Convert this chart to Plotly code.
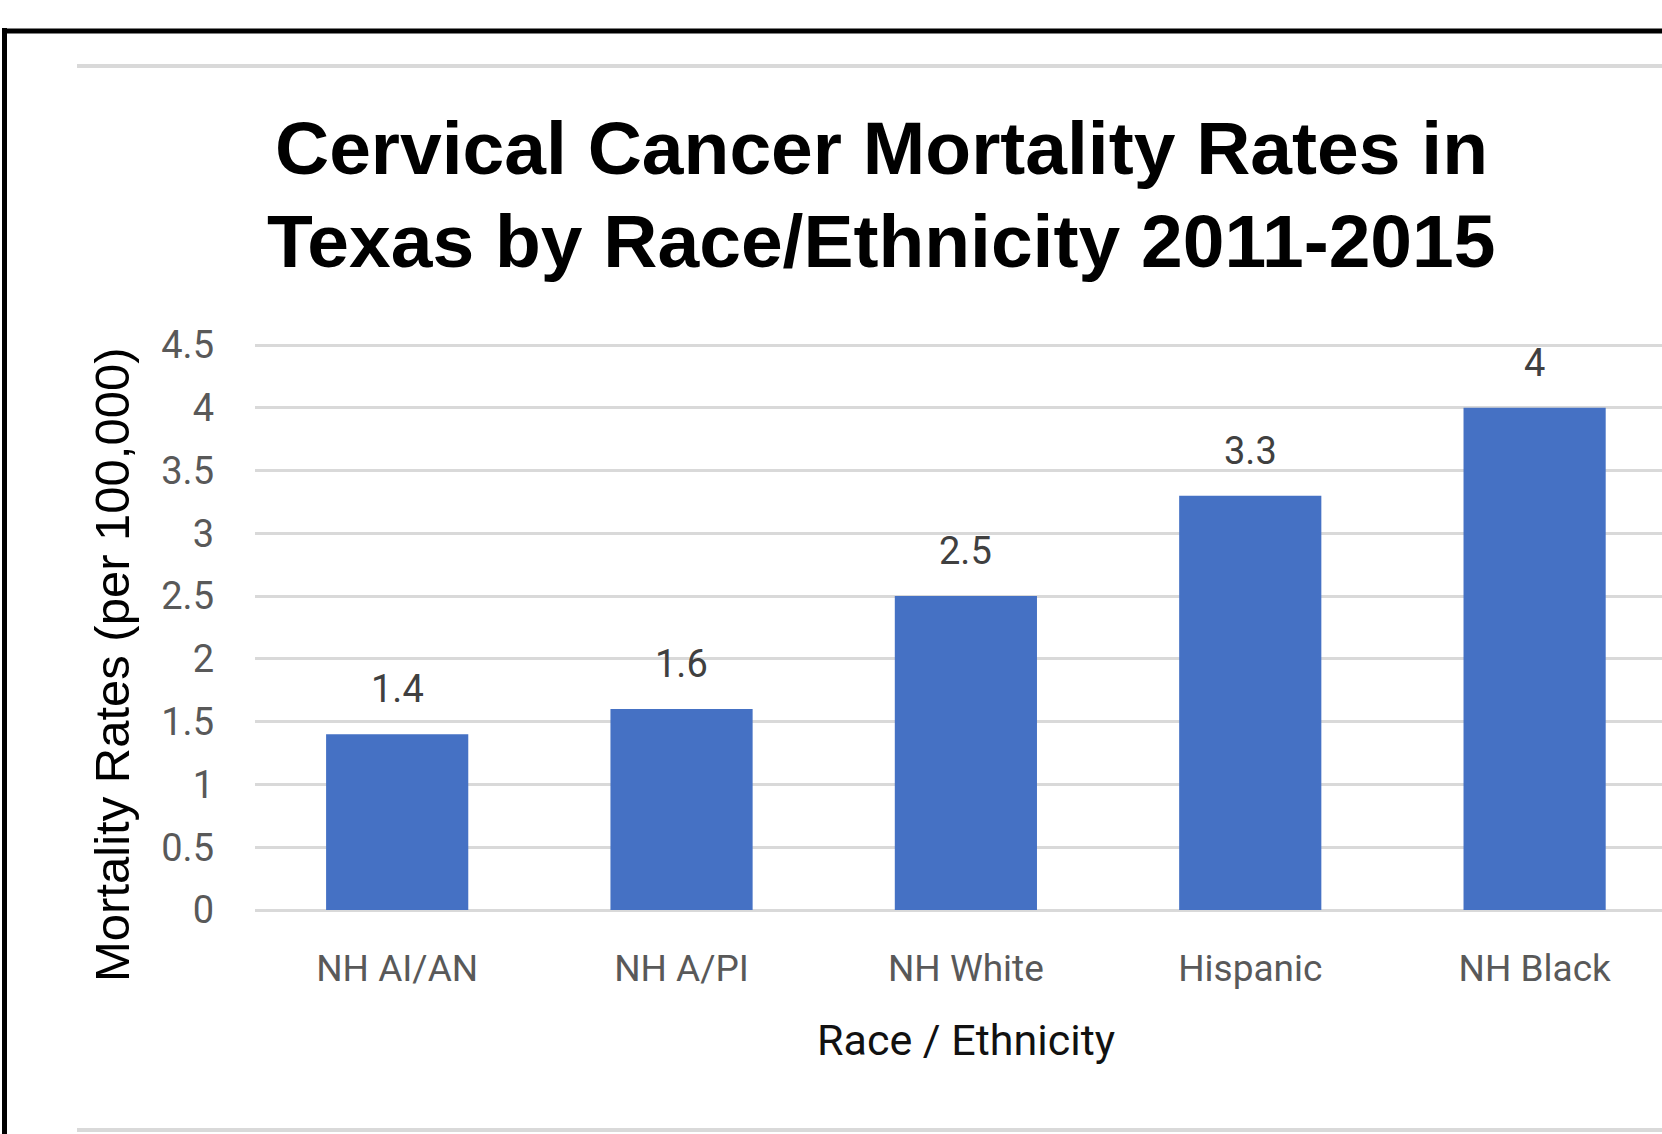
import plotly.graph_objects as go

# ---- data ----
categories = ["NH AI/AN", "NH A/PI", "NH White", "Hispanic", "NH Black"]
rates = [1.4, 1.6, 2.5, 3.3, 4.0]
rate_labels = ["1.4", "1.6", "2.5", "3.3", "4"]
y_ticks = [0, 0.5, 1, 1.5, 2, 2.5, 3, 3.5, 4, 4.5]
title_lines = ["Cervical Cancer Mortality Rates in", "Texas by Race/Ethnicity 2011-2015"]
x_title = "Race / Ethnicity"
y_title = "Mortality Rates (per 100,000)"

# ---- layout geometry (pixels) ----
W, H = 1662, 1134
Y0_PX, Y45_PX = 910, 345          # pixel rows of 0 and 4.5
PX_PER_UNIT = (Y0_PX - Y45_PX) / 4.5
TOP_EXTRA = 3                      # small headroom so the 4.5 gridline is drawn
ML, MR, MT, MB = 255, 0, Y45_PX - TOP_EXTRA, H - Y0_PX
Y_MAX = 4.5 + TOP_EXTRA / PX_PER_UNIT
PW = W - ML - MR
PH = H - MT - MB


def px_x(px):
    return (px - ML) / PW


def px_y(py):
    return (H - MB - py) / PH


fig = go.Figure()
fig.add_trace(go.Bar(
    x=list(range(len(categories))),
    y=rates,
    marker=dict(color="#4571C4", line=dict(width=0)),
    width=0.5,
    hoverinfo="skip",
))

annotations = []
for i, (v, lab) in enumerate(zip(rates, rate_labels)):
    annotations.append(dict(
        x=i, y=v, xref="x", yref="y", text=lab, showarrow=False,
        yanchor="middle", xanchor="center", yshift=45,
        font=dict(family="Roboto", size=38, color="#404040"),
    ))

# title lines
title_centers = [148, 241]
for line, cy in zip(title_lines, title_centers):
    annotations.append(dict(
        x=px_x(881), y=px_y(cy), xref="paper", yref="paper", text=f"<b>{line}</b>",
        showarrow=False, xanchor="center", yanchor="middle",
        font=dict(family="Liberation Sans", size=75, color="#000000"),
    ))

# axis titles
annotations.append(dict(
    x=2, y=px_y(1040), xref="x", yref="paper", text=x_title, showarrow=False,
    xanchor="center", yanchor="middle",
    font=dict(family="Roboto", size=43, color="#111111"),
))
annotations.append(dict(
    x=px_x(112), y=px_y(665), xref="paper", yref="paper", text=y_title,
    showarrow=False, xanchor="center", yanchor="middle", textangle=-90,
    font=dict(family="Liberation Sans", size=49, color="#000000"),
))

shapes = [
    # black frame (left + top)
    dict(type="line", xref="paper", yref="paper", x0=px_x(4.5), x1=px_x(4.5),
         y0=px_y(28), y1=px_y(H + 20), line=dict(color="#000000", width=5)),
    dict(type="line", xref="paper", yref="paper", x0=px_x(2), x1=px_x(W + 20),
         y0=px_y(31), y1=px_y(31), line=dict(color="#000000", width=5)),
    # light separator lines
    dict(type="line", xref="paper", yref="paper", x0=px_x(77), x1=px_x(W + 20),
         y0=px_y(66), y1=px_y(66), line=dict(color="#D9D9D9", width=4)),
    dict(type="line", xref="paper", yref="paper", x0=px_x(77), x1=px_x(W + 20),
         y0=px_y(1130), y1=px_y(1130), line=dict(color="#D9D9D9", width=4)),
]

fig.update_layout(
    width=W, height=H,
    margin=dict(l=ML, r=MR, t=MT, b=MB, pad=0),
    paper_bgcolor="white", plot_bgcolor="white",
    showlegend=False,
    annotations=annotations,
    shapes=shapes,
    xaxis=dict(
        tickmode="array", tickvals=list(range(len(categories))), ticktext=categories,
        range=[-0.5, 4.448], showgrid=False, zeroline=False, showline=False,
        ticks="", ticklabelstandoff=33,
        tickfont=dict(family="Roboto", size=37, color="#595959"),
        fixedrange=True,
    ),
    yaxis=dict(
        range=[0, Y_MAX], tickmode="array", tickvals=y_ticks,
        ticktext=[f"{t:g}" for t in y_ticks],
        showgrid=True, gridcolor="#D9D9D9", gridwidth=3,
        zeroline=True, zerolinecolor="#D9D9D9", zerolinewidth=3,
        showline=False, ticks="", ticklabelstandoff=40,
        tickfont=dict(family="Roboto", size=38, color="#595959"),
        fixedrange=True,
    ),
)

fig.write_html("out.html", config={"displayModeBar": False})
